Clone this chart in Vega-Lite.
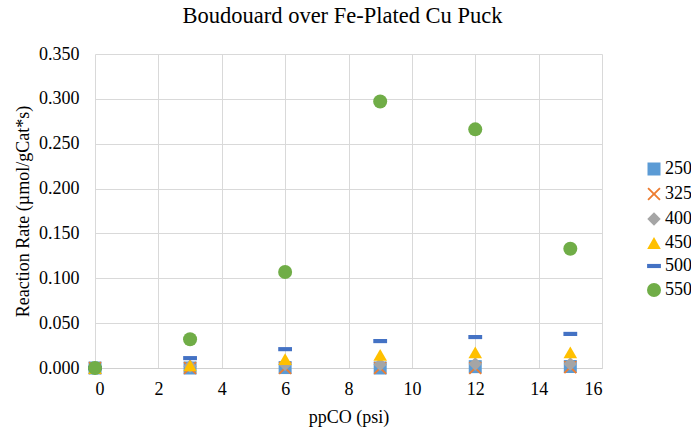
{
  "$schema": "https://vega.github.io/schema/vega-lite/v6.json",
  "width": 507,
  "height": 314,
  "autosize": {"type": "none"},
  "padding": {"left": 95, "top": 54, "right": 89, "bottom": 59},
  "background": "white",
  "title": {
    "text": "Boudouard over Fe-Plated Cu Puck",
    "font": "Liberation Serif",
    "fontSize": 22.5,
    "fontWeight": "normal",
    "color": "#000000",
    "anchor": "middle",
    "frame": "group",
    "dx": -6,
    "offset": 18
  },
  "config": {
    "view": {"stroke": null},
    "font": "Liberation Serif",
    "axis": {"labelFont": "Liberation Serif", "titleFont": "Liberation Serif"},
    "legend": {"labelFont": "Liberation Serif"}
  },
  "data": {
    "values": [
      {"ppCO": 0, "series": "250", "rate": 0.0},
      {"ppCO": 3, "series": "250", "rate": 0.0},
      {"ppCO": 6, "series": "250", "rate": 0.0005},
      {"ppCO": 9, "series": "250", "rate": 0.0},
      {"ppCO": 12, "series": "250", "rate": 0.0015},
      {"ppCO": 15, "series": "250", "rate": 0.0017},
      {"ppCO": 0, "series": "325", "rate": 0.0},
      {"ppCO": 3, "series": "325", "rate": 0.0},
      {"ppCO": 6, "series": "325", "rate": 0.0},
      {"ppCO": 9, "series": "325", "rate": 0.0},
      {"ppCO": 12, "series": "325", "rate": 0.0},
      {"ppCO": 15, "series": "325", "rate": 0.001},
      {"ppCO": 0, "series": "400", "rate": 0.0},
      {"ppCO": 3, "series": "400", "rate": 0.002},
      {"ppCO": 6, "series": "400", "rate": 0.004},
      {"ppCO": 9, "series": "400", "rate": 0.004},
      {"ppCO": 12, "series": "400", "rate": 0.0045},
      {"ppCO": 15, "series": "400", "rate": 0.0045},
      {"ppCO": 0, "series": "450", "rate": 0.0},
      {"ppCO": 3, "series": "450", "rate": 0.003},
      {"ppCO": 6, "series": "450", "rate": 0.010},
      {"ppCO": 9, "series": "450", "rate": 0.0146},
      {"ppCO": 12, "series": "450", "rate": 0.0173},
      {"ppCO": 15, "series": "450", "rate": 0.0173},
      {"ppCO": 0, "series": "500", "rate": 0.0},
      {"ppCO": 3, "series": "500", "rate": 0.011},
      {"ppCO": 6, "series": "500", "rate": 0.021},
      {"ppCO": 9, "series": "500", "rate": 0.030},
      {"ppCO": 12, "series": "500", "rate": 0.0345},
      {"ppCO": 15, "series": "500", "rate": 0.038},
      {"ppCO": 0, "series": "550", "rate": 0.0},
      {"ppCO": 3, "series": "550", "rate": 0.032},
      {"ppCO": 6, "series": "550", "rate": 0.107},
      {"ppCO": 9, "series": "550", "rate": 0.297},
      {"ppCO": 12, "series": "550", "rate": 0.266},
      {"ppCO": 15, "series": "550", "rate": 0.133}
    ]
  },
  "mark": {"type": "point", "filled": true, "opacity": 1},
  "encoding": {
    "x": {
      "field": "ppCO",
      "type": "quantitative",
      "scale": {"domain": [0, 16], "nice": false},
      "axis": {
        "title": "ppCO (psi)",
        "titleFontSize": 18,
        "titleFontWeight": "normal",
        "titleColor": "#000000",
        "titlePadding": 10,
        "labelFontSize": 18,
        "labelColor": "#000000",
        "values": [0, 2, 4, 6, 8, 10, 12, 14, 16],
        "grid": true,
        "gridColor": "#d9d9d9",
        "domainColor": "#d0d0d0",
        "ticks": false,
        "labelPadding": 12
      }
    },
    "y": {
      "field": "rate",
      "type": "quantitative",
      "scale": {"domain": [0, 0.35], "nice": false},
      "axis": {
        "title": "Reaction Rate (µmol/gCat*s)",
        "titleFontSize": 18,
        "titleFontWeight": "normal",
        "titleColor": "#000000",
        "titlePadding": 6,
        "labelFontSize": 18,
        "labelColor": "#000000",
        "format": ".3f",
        "values": [0, 0.05, 0.1, 0.15, 0.2, 0.25, 0.3, 0.35],
        "grid": true,
        "gridColor": "#d9d9d9",
        "domain": false,
        "ticks": false,
        "labelPadding": 16
      }
    },
    "color": {
      "field": "series",
      "type": "nominal",
      "scale": {
        "domain": ["250", "325", "400", "450", "500", "550"],
        "range": ["#5B9BD5", "#ED7D31", "#A5A5A5", "#FFC000", "#4472C4", "#70AD47"]
      },
      "legend": {
        "title": null,
        "orient": "none",
        "legendX": 550,
        "legendY": 106,
        "labelFontSize": 18,
        "labelColor": "#000000",
        "labelOffset": 2,
        "rowPadding": 5,
        "symbolOpacity": 1
      }
    },
    "shape": {
      "field": "series",
      "type": "nominal",
      "scale": {
        "domain": ["250", "325", "400", "450", "500", "550"],
        "range": [
          "square",
          "M-1,-0.8L-0.8,-1L0,-0.2L0.8,-1L1,-0.8L0.2,0L1,0.8L0.8,1L0,0.2L-0.8,1L-1,0.8L-0.2,0Z",
          "diamond",
          "triangle-up",
          "M-1,-0.3L1,-0.3L1,0.3L-1,0.3Z",
          "circle"
        ]
      }
    },
    "size": {
      "field": "series",
      "type": "nominal",
      "scale": {
        "domain": ["250", "325", "400", "450", "500", "550"],
        "range": [169, 196, 196, 256, 256, 227]
      },
      "legend": null
    }
  }
}
